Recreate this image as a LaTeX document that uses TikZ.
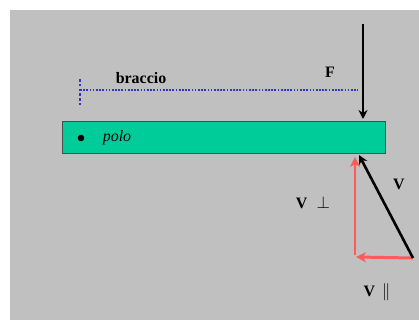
\documentclass[tikz,border=0pt]{standalone}
\usepackage{fontspec}
\setmainfont{Liberation Serif}
\usetikzlibrary{arrows.meta}
\definecolor{bggray}{HTML}{C0C0C0}
\definecolor{bargreen}{HTML}{00CC99}
\definecolor{dotblue}{HTML}{3333CC}
\definecolor{vred}{HTML}{FF5A5A}
\tikzset{
  lbl/.style={font=\fontsize{16}{18}\selectfont\bfseries, inner sep=0pt},
  blackarrow/.style={line width=3pt, -{Stealth[length=9pt,width=9pt]}},
  redarrow/.style={draw=vred, line width=3pt, -{Stealth[length=10pt,width=10pt,inset=3pt]}},
  hdots/.style={draw=dotblue, line width=1.7pt, dash pattern=on 1.7pt off 1.5pt},
  vdots/.style={draw=dotblue, line width=2.8pt, dash pattern=on 2.6pt off 2.2pt}
}
\begin{document}
\begin{tikzpicture}[x=1bp,y=1bp]
\useasboundingbox (0,0) rectangle (419,320);
\fill[white] (0,0) rectangle (419,320);
\fill[bggray] (10,0) rectangle (419,310);
% bar
\node[draw=black!70, fill=bargreen, line width=0.8pt, minimum width=323bp, minimum height=32bp, inner sep=0pt, anchor=south west] (bar) at (62,166) {};
\fill (81,182) circle (3.3bp);
\node[font=\fontsize{16}{18}\selectfont\itshape, inner sep=0pt] (polo) at (117,182) {polo};
% braccio
\coordinate (bl) at (80,230);
\coordinate (br) at (358,230);
\coordinate (bt) at (80,241);
\coordinate (bb) at (80,215);
\draw[vdots] (bt) -- (bb);
\draw[hdots] (bl) -- (br);
\node[lbl] (braccio) at (141,242) {braccio};
% F
\coordinate (Ftop) at (363,296);
\coordinate (Ftip) at (363,201);
\draw[blackarrow] (Ftop) -- (Ftip);
\node[lbl] (F) at (330,248) {F};
% V triangle
\coordinate (P) at (413,62);
\coordinate (Q) at (356,63);
\coordinate (T) at (359,165);
\draw[redarrow] (P) -- (Q);
\draw[redarrow] (355,65) -- (355,163);
\draw[line width=2.6pt, -{Stealth[length=9pt,width=9pt]}] (P) -- (T);
\node[lbl] (V) at (399,136) {V};
\node[lbl] (Vperp) at (313,117) {V \,\,$\perp$};
\node[lbl] (Vpar) at (377,28) {V \,{\mdseries$\|$}};
\end{tikzpicture}
\end{document}
